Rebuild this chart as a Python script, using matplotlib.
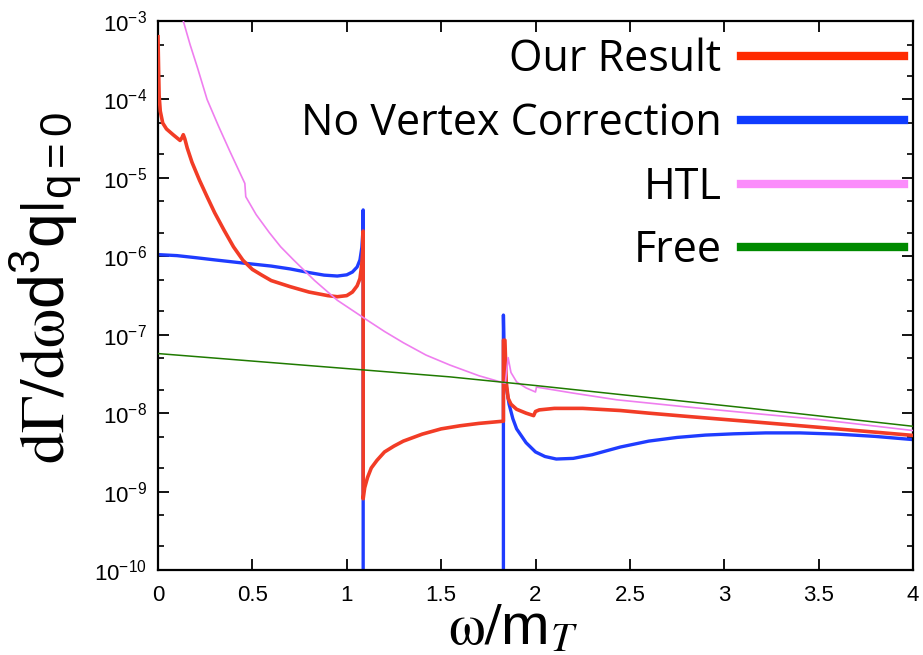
import matplotlib
matplotlib.use("Agg")
import matplotlib.pyplot as plt
from matplotlib.lines import Line2D
from matplotlib.ticker import LogLocator, FixedLocator, FixedFormatter, NullFormatter

plt.rcParams['font.family'] = ['Liberation Sans', 'DejaVu Sans']
plt.rcParams['mathtext.fontset'] = 'stix'

# --- data ---
omega_red = [0.0, 0.003, 0.006, 0.012, 0.025, 0.045, 0.08, 0.117, 0.127, 0.134, 0.142,
             0.155, 0.18, 0.22, 0.26, 0.3, 0.35, 0.4, 0.45, 0.5, 0.55, 0.6, 0.7, 0.8,
             0.9, 0.95, 1.0, 1.03, 1.055, 1.07, 1.08, 1.085, 1.087,
             1.087, 1.095, 1.11, 1.13, 1.16, 1.2, 1.25, 1.3, 1.4, 1.5, 1.6, 1.7, 1.83,
             1.83, 1.838, 1.845, 1.855, 1.87, 1.9, 1.95, 1.99, 2.0, 2.02, 2.1, 2.25,
             2.45, 2.6, 2.8, 3.14, 3.5, 4.0]
rate_red = [6.3e-4, 2.5e-4, 1.12e-4, 7.1e-5, 5.0e-5, 4.2e-5, 3.55e-5, 3.0e-5, 3.25e-5,
            3.55e-5, 3.15e-5, 2.4e-5, 1.58e-5, 9.3e-6, 5.75e-6, 3.6e-6, 2.15e-6,
            1.32e-6, 8.9e-7, 6.8e-7, 5.75e-7, 4.9e-7, 4.1e-7, 3.5e-7,
            3.15e-7, 3.05e-7, 3.15e-7, 3.5e-7, 4.2e-7, 5.2e-7, 8.0e-7, 1.2e-6, 2.1e-6,
            8.1e-10, 1.12e-9, 1.51e-9, 2.0e-9, 2.5e-9, 3.2e-9, 3.8e-9, 4.4e-9, 5.4e-9,
            6.3e-9, 6.9e-9, 7.4e-9, 7.9e-9,
            8.5e-8, 8.5e-8, 2.5e-8, 1.55e-8, 1.3e-8, 1.12e-8, 1.0e-8, 9.3e-9, 1.05e-8,
            1.1e-8, 1.15e-8, 1.15e-8, 1.08e-8, 1.0e-8, 9.1e-9, 7.8e-9, 6.6e-9, 5.2e-9]

omega_blue = [0.0, 0.1, 0.2, 0.3, 0.45, 0.6, 0.7, 0.8, 0.88, 0.95, 1.0, 1.03, 1.055,
              1.07, 1.08, 1.085, 1.087, 1.087, 1.83,
              1.83, 1.835, 1.845, 1.86, 1.88, 1.9, 1.95, 2.0, 2.05, 2.11, 2.2, 2.3,
              2.45, 2.6, 2.75, 2.9, 3.05, 3.22, 3.4, 3.6, 3.8, 4.0]
rate_blue = [1.05e-6, 1.02e-6, 9.6e-7, 9.0e-7, 8.2e-7, 7.5e-7, 6.9e-7, 6.2e-7, 5.75e-7,
             5.6e-7, 5.8e-7, 6.3e-7, 7.3e-7, 9.0e-7, 1.3e-6, 2.0e-6, 3.9e-6, 1e-12,
             1e-12, 1.78e-7, 4.0e-8, 2.2e-8, 1.3e-8, 8.5e-9, 6.3e-9, 4.2e-9, 3.2e-9,
             2.8e-9, 2.6e-9, 2.65e-9, 2.95e-9, 3.7e-9, 4.4e-9, 4.9e-9, 5.25e-9, 5.45e-9,
             5.6e-9, 5.6e-9, 5.4e-9, 5.05e-9, 4.6e-9]

omega_htl = [0.134, 0.17, 0.21, 0.26, 0.32, 0.38, 0.46, 0.465, 0.52, 0.59, 0.65, 0.72,
             0.83, 0.95, 1.1, 1.2, 1.3, 1.42, 1.547, 1.7, 1.84, 1.855, 1.87, 1.9, 1.95,
             2.0, 2.005, 2.2, 2.43, 2.8, 3.14, 3.5, 4.0]
rate_htl = [1.0e-3, 5.0e-4, 2.5e-4, 1.0e-4, 4.6e-5, 2.2e-5, 8.5e-6, 5.75e-6, 3.4e-6,
            2.0e-6, 1.32e-6, 8.9e-7, 4.9e-7, 2.75e-7, 1.58e-7, 1.1e-7, 7.9e-8, 5.5e-8,
            4.1e-8, 3.0e-8, 2.4e-8, 5.1e-8, 3.3e-8, 2.5e-8, 2.1e-8, 1.86e-8, 2.15e-8,
            1.8e-8, 1.48e-8, 1.2e-8, 1.0e-8, 8.3e-9, 6.0e-9]

omega_free = [0.0, 1.0, 1.547, 2.0, 3.14, 4.0]
rate_free = [5.75e-8, 3.7e-8, 2.9e-8, 2.25e-8, 1.15e-8, 6.8e-9]

labels = ['Our Result', 'No Vertex Correction', 'HTL', 'Free']
colors = ['#f23c26', '#1f3cff', '#ef7eef', '#1f7a00']
legend_colors = ['#ff2a00', '#0f3cff', '#fb8cfb', '#008a00']

x_ticks = [0, 0.5, 1, 1.5, 2, 2.5, 3, 3.5, 4]
x_ticklabels = ['0', '0.5', '1', '1.5', '2', '2.5', '3', '3.5', '4']
y_ticks = [1e-10, 1e-9, 1e-8, 1e-7, 1e-6, 1e-5, 1e-4, 1e-3]
y_ticklabels = [r'$\mathregular{10^{-%d}}$' % k for k in range(10, 2, -1)]

fig = plt.figure(figsize=(9.23, 6.55), dpi=100)
ax = fig.add_axes([158 / 923, 1 - 570 / 655, 755 / 923, 549 / 655])

ax.plot(omega_blue, rate_blue, color=colors[1], lw=2.4, zorder=2)
ax.plot(omega_red, rate_red, color=colors[0], lw=2.6, zorder=3)
ax.plot(omega_htl, rate_htl, color=colors[2], lw=1.2, zorder=4)
ax.plot(omega_free, rate_free, color=colors[3], lw=1.1, zorder=5)

ax.set_yscale('log')
ax.set_xlim(0, 4)
ax.set_ylim(1e-10, 1e-3)

ax.xaxis.set_major_locator(FixedLocator(x_ticks))
ax.xaxis.set_major_formatter(FixedFormatter(x_ticklabels))
ax.yaxis.set_major_locator(FixedLocator(y_ticks))
ax.yaxis.set_major_formatter(FixedFormatter(y_ticklabels))
ax.yaxis.set_minor_locator(LogLocator(base=10, subs=[2, 5]))
ax.yaxis.set_minor_formatter(NullFormatter())

ax.tick_params(which='both', direction='in', top=True, right=True, labelsize=16)
ax.tick_params(which='major', length=8, width=1.3)
ax.tick_params(which='minor', length=4, width=1.2)
ax.tick_params(axis='y', pad=8)
ax.tick_params(axis='x', pad=11)
for sp in ax.spines.values():
    sp.set_linewidth(1.6)

ax.set_xlabel(r'$\mathrm{\omega}/\mathregular{m}_{T}$', fontsize=42)
ax.xaxis.set_label_coords(0.47, -0.108)
ax.xaxis.label.set_va('center')

ax.set_ylabel(r'$\mathrm{d\Gamma/d\omega}\mathregular{d^3q}|_{\mathregular{q=0}}$',
              fontsize=45)
ax.yaxis.set_label_coords(-0.148, 0.514)
ax.yaxis.label.set_va('center')

handles = [Line2D([], [], color=c, lw=6) for c in legend_colors]
leg = ax.legend(handles, labels, loc='upper right', frameon=False, markerfirst=False,
                prop={'family': ['Open Sans', 'DejaVu Sans'], 'size': 31},
                handlelength=3.8, handletextpad=0.45, labelspacing=0.45,
                borderpad=0.15, borderaxespad=0.0, bbox_to_anchor=(0.997, 0.982))

fig.savefig('out.png', dpi=100)
